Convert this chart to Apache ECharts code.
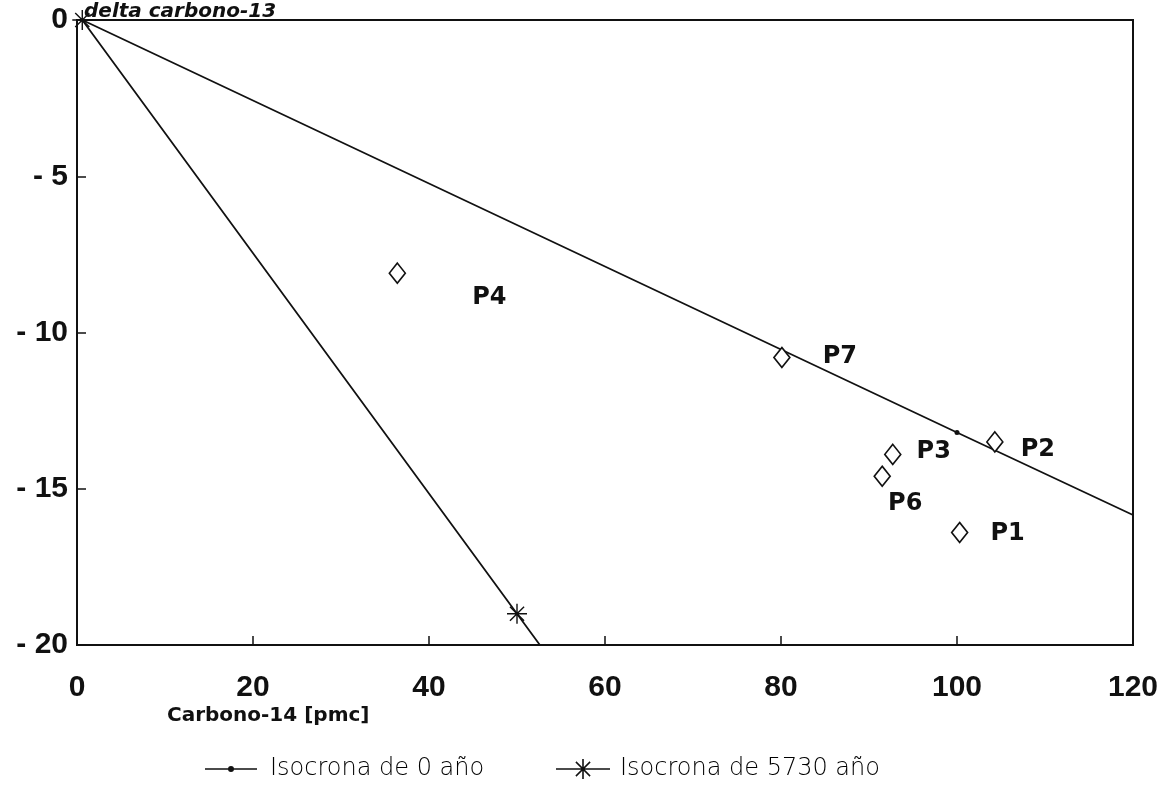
<!DOCTYPE html>
<html>
<head>
<meta charset="utf-8">
<script src="https://cdn.jsdelivr.net/npm/echarts@6/dist/echarts.min.js"></script>
<style>
  html, body { margin: 0; padding: 0; background: #fff; }
  #chart { width: 1166px; height: 796px; }
</style>
</head>
<body>
<div id="chart"></div>
<script>
// Isochrone lines: [Carbono-14 (pmc), delta carbono-13]
const isocrona0 = [[0.6, 0], [100, -13.2], [120, -15.84]];
const isocrona5730 = [[0.6, 0], [50, -19], [52.6, -20]];

// Sample points
const muestraNombres = ['P1', 'P2', 'P3', 'P4', 'P6', 'P7'];
const muestraC14 = [100.3, 104.3, 92.7, 36.4, 91.5, 80.1];
const muestraD13 = [-16.4, -13.5, -13.9, -8.1, -14.6, -10.8];

const xTicks = [0, 20, 40, 60, 80, 100, 120];
const yTicks = [0, -5, -10, -15, -20];

// Label placement around each sample marker (pixels from marker centre)
const labelOffsets = {
  P1: [48, 1], P2: [43, 8], P3: [41, -3], P4: [92, 25], P6: [23, 28], P7: [58, -1]
};

// Eight-armed asterisk marker
const asterisk = 'path://M0 9.3L20 9.3L20 10.7L0 10.7Z' +
  'M9.3 0L10.7 0L10.7 20L9.3 20Z' +
  'M3.43 2.44L17.57 16.58L16.58 17.57L2.44 3.43Z' +
  'M16.58 2.44L17.57 3.43L3.43 17.57L2.44 16.58Z';

// Legend icons: short line with the series marker in its middle
const iconDot = 'path://M0 2.2L52 2.2L52 3.8L0 3.8Z' +
  'M26 0A3 3 0 1 1 26 6A3 3 0 1 1 26 0Z';
const iconStar = 'path://M0 9.2L54 9.2L54 10.8L0 10.8Z' +
  'M26.2 0L27.8 0L27.8 20L26.2 20Z' +
  'M20.43 2.37L34.63 16.57L33.57 17.63L19.37 3.43Z' +
  'M33.57 2.37L34.63 3.43L20.43 17.63L19.37 16.57Z';

const FONT = 'Liberation Sans';
const WIDE = 'DejaVu Sans';

const chart = echarts.init(document.getElementById('chart'));

const line0Data = isocrona0.map((p, i) => ({
  value: p,
  symbol: i === 1 ? 'circle' : 'none',
  symbolSize: 5
}));
const line5730Data = isocrona5730.map((p, i) => ({
  value: p,
  symbol: i < 2 ? asterisk : 'none',
  symbolSize: 20
}));
const puntos = muestraNombres.map((n, i) => ({
  name: n,
  value: [muestraC14[i], muestraD13[i]],
  label: { offset: labelOffsets[n] }
}));

const legendText = {
  fontSize: 24, fontFamily: WIDE, fontWeight: 200, color: '#000'
};

chart.setOption({
  animation: false,
  backgroundColor: '#fff',
  grid: {
    left: 77, right: 33, top: 20, bottom: 151,
    show: true, borderColor: '#111', borderWidth: 2, backgroundColor: 'transparent'
  },
  xAxis: {
    type: 'value', min: 0, max: 120, interval: 20,
    axisLine: { show: true, onZero: false, lineStyle: { color: '#111', width: 2 } },
    axisTick: { show: true, inside: true, length: 9, lineStyle: { color: '#111', width: 1.5 } },
    splitLine: { show: false },
    axisLabel: {
      margin: 28, fontSize: 30, fontWeight: 'bold', fontFamily: FONT, color: '#111',
      formatter: v => xTicks.includes(v) ? String(v) : ''
    }
  },
  yAxis: {
    type: 'value', min: -20, max: 0, interval: 5,
    axisLine: { show: true, onZero: false, lineStyle: { color: '#111', width: 2 } },
    axisTick: { show: true, inside: true, length: 9, lineStyle: { color: '#111', width: 1.5 } },
    splitLine: { show: false },
    axisLabel: {
      margin: 9, fontSize: 30, fontWeight: 'bold', fontFamily: FONT, color: '#111',
      formatter: v => yTicks.includes(v) ? (v === 0 ? '0' : '- ' + Math.abs(v)) : ''
    }
  },
  legend: [
    {
      left: 200, top: 752,
      icon: iconDot, itemWidth: 52, itemHeight: 6,
      itemStyle: { color: '#111' },
      textStyle: Object.assign({ padding: [0, 0, 0, 8] }, legendText),
      data: ['Isocrona de 0 año']
    },
    {
      left: 551, top: 752,
      icon: iconStar, itemWidth: 54, itemHeight: 20,
      itemStyle: { color: '#111' },
      textStyle: Object.assign({ padding: [0, 0, 0, 5] }, legendText),
      data: ['Isocrona de 5730 año']
    }
  ],
  series: [
    {
      name: 'Isocrona de 0 año',
      type: 'line',
      data: line0Data,
      symbol: 'circle',
      symbolSize: 5,
      showAllSymbol: true,
      lineStyle: { color: '#111', width: 1.8 },
      itemStyle: { color: '#111' },
      z: 3
    },
    {
      name: 'Isocrona de 5730 año',
      type: 'line',
      data: line5730Data,
      symbol: asterisk,
      symbolSize: 18,
      showAllSymbol: true,
      lineStyle: { color: '#111', width: 1.8 },
      itemStyle: { color: '#111' },
      z: 3
    },
    {
      name: 'Muestras',
      type: 'scatter',
      data: puntos,
      symbol: 'diamond',
      symbolSize: [16, 20],
      itemStyle: { color: '#fff', borderColor: '#111', borderWidth: 1.6, opacity: 1 },
      label: {
        show: true, position: 'inside', formatter: '{b}',
        fontSize: 24, fontWeight: 'bold', fontFamily: WIDE, color: '#111',
        textBorderWidth: 0, textBorderColor: 'transparent'
      },
      z: 4
    }
  ],
  graphic: [
    {
      type: 'text', left: 84, top: 2,
      style: { text: 'delta carbono-13', font: 'italic bold 20px "DejaVu Sans"', fill: '#111' }
    },
    {
      type: 'text', left: 167, top: 706,
      style: { text: 'Carbono-14 [pmc]', font: 'bold 20px "DejaVu Sans"', fill: '#111' }
    }
  ]
});
</script>
</body>
</html>
